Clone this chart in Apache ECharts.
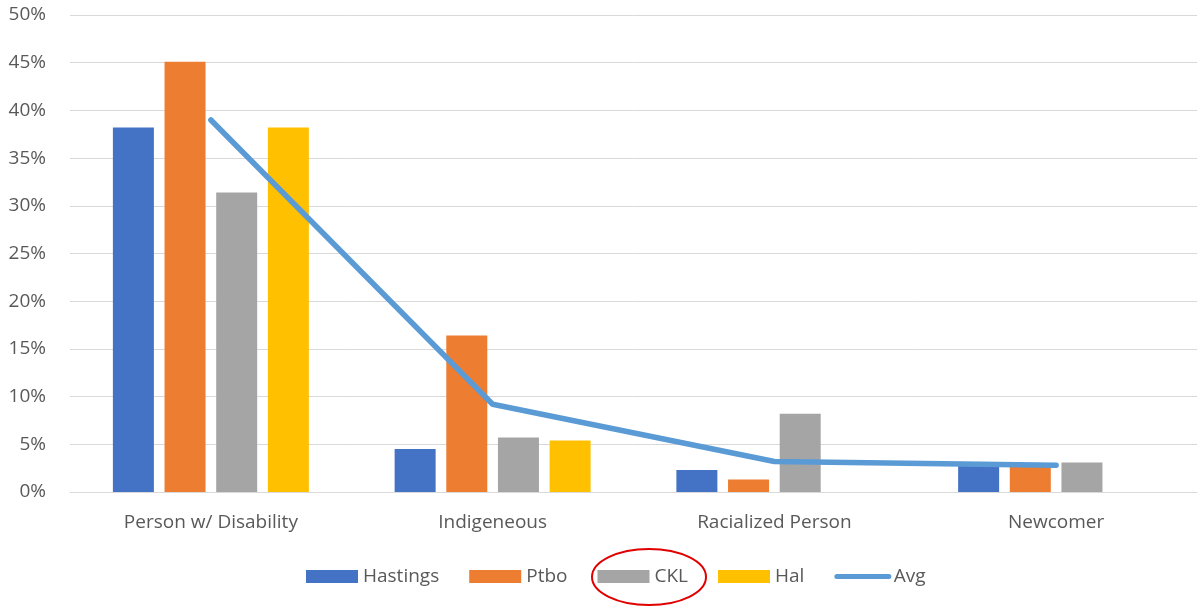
<!DOCTYPE html>
<html lang="en">
<head>
    <meta charset="UTF-8">
    <title>Groups by Region</title>
    <script src="https://cdn.jsdelivr.net/npm/echarts@6/dist/echarts.min.js"></script>
    <style>
        html, body { margin: 0; padding: 0; background: #fff; }
        #chart { width: 1199px; height: 613px; }
    </style>
</head>
<body>
    <div id="chart"></div>
    <script>
        // categories and values (percent)
        const categories = ['Person w/ Disability', 'Indigeneous', 'Racialized Person', 'Newcomer'];
        const hastings = [38.2, 4.5, 2.3, 2.9];
        const ptbo = [45.1, 16.4, 1.3, 2.9];
        const ckl = [31.4, 5.7, 8.2, 3.1];
        const hal = [38.2, 5.4, null, null];
        const avg = [39.0, 9.2, 3.2, 2.8];

        const font = 'Open Sans';
        const chart = echarts.init(document.getElementById('chart'));

        function barSeries(name, data, color) {
            return {
                name: name,
                type: 'bar',
                data: data,
                barWidth: 41,
                barGap: '26%',
                itemStyle: { color: color }
            };
        }

        chart.setOption({
            animation: false,
            textStyle: { fontFamily: font },
            grid: { left: 70, right: 2, top: 15, bottom: 121 },
            legend: {
                bottom: 22,
                left: 301,
                itemWidth: 52,
                itemHeight: 13,
                itemGap: 30,
                textStyle: { fontSize: 19, color: '#595959', fontFamily: font },
                data: [
                    { name: 'Hastings', icon: 'rect' },
                    { name: 'Ptbo', icon: 'rect' },
                    { name: 'CKL', icon: 'rect' },
                    { name: 'Hal', icon: 'rect' },
                    { name: 'Avg', itemStyle: { opacity: 0 }, lineStyle: { width: 5, cap: 'round' } }
                ]
            },
            xAxis: {
                type: 'category',
                data: categories,
                axisTick: { show: false },
                axisLine: { lineStyle: { color: '#d9d9d9', width: 1 } },
                axisLabel: { fontSize: 19, color: '#595959', margin: 21 }
            },
            yAxis: {
                type: 'value',
                min: 0,
                max: 50,
                interval: 5,
                axisLabel: { formatter: '{value}%', fontSize: 19, color: '#595959', margin: 24 },
                splitLine: { lineStyle: { color: '#d9d9d9', width: 1 } },
                axisLine: { show: false },
                axisTick: { show: false }
            },
            series: [
                barSeries('Hastings', hastings, '#4472C4'),
                barSeries('Ptbo', ptbo, '#ED7D31'),
                barSeries('CKL', ckl, '#A5A5A5'),
                barSeries('Hal', hal, '#FFC000'),
                {
                    name: 'Avg',
                    type: 'line',
                    data: avg,
                    symbol: 'none',
                    z: 5,
                    lineStyle: { color: '#5B9BD5', width: 5.5, cap: 'round', join: 'round' },
                    itemStyle: { color: '#5B9BD5' }
                }
            ],
            graphic: [{
                type: 'ellipse',
                shape: { cx: 649, cy: 577, rx: 57, ry: 28 },
                style: { fill: 'none', stroke: '#E00000', lineWidth: 2 },
                z: 100
            }]
        });
    </script>
</body>
</html>
